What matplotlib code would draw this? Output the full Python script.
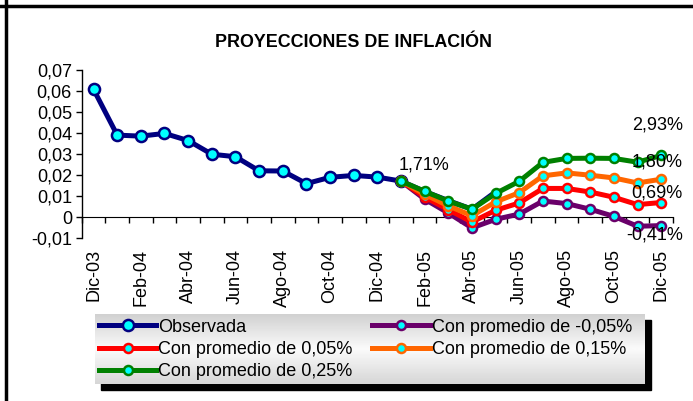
import matplotlib
matplotlib.use("Agg")
import matplotlib.pyplot as plt
import numpy as np
from matplotlib.lines import Line2D
from matplotlib.patches import Rectangle
from matplotlib.ticker import FuncFormatter

plt.rcParams['font.family'] = ['Liberation Sans', 'DejaVu Sans']

# DATOS
meses = ["Dic-03", "Ene-04", "Feb-04", "Mar-04", "Abr-04", "May-04", "Jun-04",
         "Jul-04", "Ago-04", "Sep-04", "Oct-04", "Nov-04", "Dic-04", "Ene-05",
         "Feb-05", "Mar-05", "Abr-05", "May-05", "Jun-05", "Jul-05", "Ago-05",
         "Sep-05", "Oct-05", "Nov-05", "Dic-05"]

observada = [0.0608, 0.0390, 0.0385, 0.0398, 0.0364, 0.0299, 0.0287, 0.0220,
             0.0219, 0.0159, 0.0189, 0.0198, 0.0190, 0.0171,
             0.0122, 0.0078, 0.0037, 0.0120]

# proyecciones desde Ene-05 hasta Dic-05
prom_m005 = [0.0171, 0.0085, 0.0019, -0.0052, -0.0011, 0.0014, 0.0076, 0.0064,
             0.0037, 0.0003, -0.0044, -0.0041]
prom_005 = [0.0171, 0.0095, 0.0035, -0.0024, 0.0032, 0.0067, 0.0136, 0.0136,
            0.0119, 0.0094, 0.0059, 0.0069]
prom_015 = [0.0171, 0.0108, 0.0053, 0.0006, 0.0072, 0.0116, 0.0196, 0.0210,
            0.0199, 0.0186, 0.0162, 0.0180]
prom_025 = [0.0171, 0.0122, 0.0076, 0.0037, 0.0112, 0.0170, 0.0260, 0.0279,
            0.0280, 0.0279, 0.0261, 0.0293]

etiquetas_fin = ["2,93%", "1,80%", "0,69%", "-0,41%"]

FS = 13

x_obs = np.arange(len(observada))
x_proy = np.arange(13, 13 + len(prom_025))

fig = plt.figure(figsize=(6.93, 4.01), dpi=100)
ax = fig.add_axes([81.7 / 693, 1 - 238 / 401, (673 - 81.7) / 693, (238 - 70) / 401])

# serie observada
ax.plot(x_obs, observada, color='#000080', lw=3.6, marker='o', ms=8,
        mfc='#00ffff', mec='#000080', mew=1.8, markevery=slice(0, 14),
        label='Observada', zorder=3)

series = [
    (prom_m005, '#6a006a', 'Con promedio de -0,05%'),
    (prom_005, '#ff0000', 'Con promedio de 0,05%'),
    (prom_015, '#ff6600', 'Con promedio de 0,15%'),
    (prom_025, '#008000', 'Con promedio de 0,25%'),
]
lineas = {}
for i, (vals, col, lab) in enumerate(series):
    l, = ax.plot(x_proy, vals, color=col, lw=3.6, marker='o', ms=6.5,
                 mfc='#00ffff', mec=col, mew=1.8, label=lab, zorder=4 + i)
    lineas[lab] = l

# etiquetas de valores
ax.annotate("1,71%", xy=(13, observada[13]), xytext=(16.6, 11.5),
            textcoords='offset points', ha='center', va='center', fontsize=FS)
offs = [(-2.9, 21.6), (-2.9, 12.2), (-2.9, 6.5), (-5, -6.5)]
finales = [prom_025[-1], prom_015[-1], prom_005[-1], prom_m005[-1]]
for txt, v, o in zip(etiquetas_fin, finales, offs):
    ax.annotate(txt, xy=(24, v), xytext=o, textcoords='offset points',
                ha='center', va='center', fontsize=FS, zorder=10)

# ejes
ax.set_xlim(-0.5, 24.5)
ax.set_ylim(-0.01, 0.07)
ax.set_yticks(np.arange(-0.01, 0.0701, 0.01))
ax.yaxis.set_major_formatter(FuncFormatter(
    lambda v, p: "0" if abs(v) < 1e-9 else f"{v:.2f}".replace('.', ',')))
ax.tick_params(axis='y', direction='out', length=4, width=1, labelsize=FS, pad=3)

ax.spines['top'].set_visible(False)
ax.spines['right'].set_visible(False)
ax.spines['bottom'].set_position(('data', 0))
ax.spines['left'].set_linewidth(1)

ax.set_xticks(np.arange(-0.5, 25, 1))
ax.set_xticklabels([])
ax.set_xticks(np.arange(0, 25, 2), minor=True)
ax.set_xticklabels(meses[::2], minor=True, rotation=90, fontsize=FS)
ax.tick_params(axis='x', which='major', direction='out', length=4, width=1)
ax.tick_params(axis='x', which='minor', length=0, pad=23)
for t in ax.get_xticklabels(minor=True):
    t.set_va('top')

ax.set_title("PROYECCIONES DE INFLACIÓN", fontsize=12.9, fontweight='bold',
             x=(353.5 - 81.7) / (673 - 81.7), y=1.09)

# fondo de la leyenda con degradado y sombra
lx0, ly0, lx1, ly1 = 95, 314, 645, 384
fig.patches.append(Rectangle(((lx0 + 6) / 693, 1 - (ly1 + 6) / 401),
                             (lx1 - lx0) / 693, (ly1 - ly0) / 401,
                             transform=fig.transFigure, color='black', zorder=1))
lax = fig.add_axes([lx0 / 693, 1 - ly1 / 401, (lx1 - lx0) / 693, (ly1 - ly0) / 401],
                   zorder=2)
grad = np.concatenate([np.linspace(0.82, 0.98, 30), np.linspace(0.98, 0.84, 30)])
lax.imshow(grad[:, None], cmap='gray', vmin=0, vmax=1, aspect='auto')
lax.axis('off')

orden = ['Observada', 'Con promedio de 0,05%', 'Con promedio de 0,25%',
         'Con promedio de -0,05%', 'Con promedio de 0,15%']
h_obs = Line2D([], [], color='#000080', lw=3.6, marker='o', ms=8,
               mfc='#00ffff', mec='#000080', mew=1.8)
handles = [h_obs] + [lineas[o] for o in orden[1:]]
leg = fig.legend(handles, orden, loc='upper left', ncol=2,
                 bbox_to_anchor=(lx0 / 693, 1 - (ly0 + 1) / 401),
                 frameon=False, fontsize=FS, handlelength=3.2,
                 handletextpad=0.1, columnspacing=1.1, labelspacing=0.30,
                 borderpad=0.2, borderaxespad=0)
leg.set_zorder(5)

# marco
fig.add_artist(Line2D([0, 1], [1 - 5.5 / 401] * 2, transform=fig.transFigure,
                      color='black', lw=2.5))
fig.add_artist(Line2D([5.5 / 693] * 2, [0, 1], transform=fig.transFigure,
                      color='black', lw=2.5))

fig.savefig("out.png", dpi=100)
